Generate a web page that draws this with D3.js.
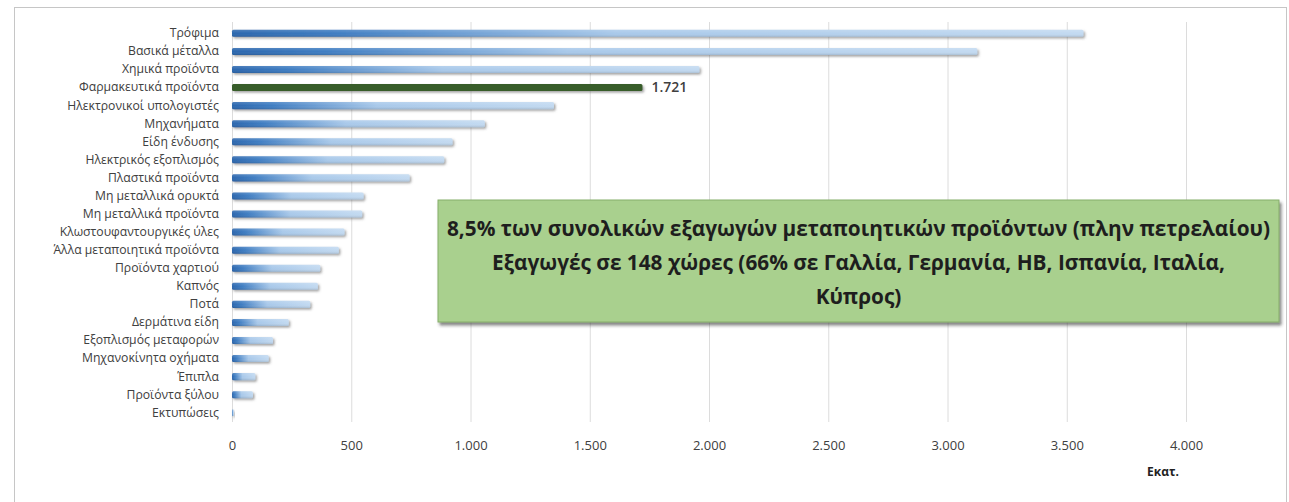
<!DOCTYPE html>
<html>
<head>
<meta charset="utf-8">
<script src="https://cdn.jsdelivr.net/npm/d3@7"></script>
<style>
  html, body { margin: 0; padding: 0; background: #fff; }
  svg { display: block; }
</style>
</head>
<body>
<svg id="chart" width="1289" height="502"></svg>
<script>
const categories = [
  "Τρόφιμα", "Βασικά μέταλλα", "Χημικά προϊόντα", "Φαρμακευτικά προϊόντα",
  "Ηλεκτρονικοί υπολογιστές", "Μηχανήματα", "Είδη ένδυσης", "Ηλεκτρικός εξοπλισμός",
  "Πλαστικά προϊόντα", "Μη μεταλλικά ορυκτά", "Μη μεταλλικά προϊόντα",
  "Κλωστουφαντουργικές ύλες", "Άλλα μεταποιητικά προϊόντα", "Προϊόντα χαρτιού",
  "Καπνός", "Ποτά", "Δερμάτινα είδη", "Εξοπλισμός μεταφορών", "Μηχανοκίνητα οχήματα",
  "Έπιπλα", "Προϊόντα ξύλου", "Εκτυπώσεις"
];
const values = [
  3570, 3125, 1960, 1721, 1350, 1060, 925, 890, 745, 552, 546,
  472, 448, 370, 360, 328, 238, 172, 154, 98, 88, 8
];
const highlighted = "Φαρμακευτικά προϊόντα";
const tickValues = [0, 500, 1000, 1500, 2000, 2500, 3000, 3500, 4000];
const unitLabel = "Εκατ.";
const boxLines = [
  "8,5% των συνολικών εξαγωγών μεταποιητικών προϊόντων (πλην πετρελαίου)",
  "Εξαγωγές σε 148 χώρες (66% σε Γαλλία, Γερμανία, ΗΒ, Ισπανία, Ιταλία,",
  "Κύπρος)"
];

const locale = d3.formatLocale({decimal: ",", thousands: ".", grouping: [3], currency: ["", "€"]});
const fmt = locale.format(",d");

const svg = d3.select("#chart");
const defs = svg.append("defs");

const grad = defs.append("linearGradient").attr("id", "barGrad")
  .attr("x1", "0").attr("x2", "1").attr("y1", "0").attr("y2", "0");
grad.append("stop").attr("offset", "0").attr("stop-color", "#2C67AE");
grad.append("stop").attr("offset", "0.12").attr("stop-color", "#3F7DC2");
grad.append("stop").attr("offset", "0.45").attr("stop-color", "#A9C9EA");
grad.append("stop").attr("offset", "1").attr("stop-color", "#C3DAF1");

const vgrad = defs.append("linearGradient").attr("id", "barShade")
  .attr("x1", "0").attr("x2", "0").attr("y1", "0").attr("y2", "1");
vgrad.append("stop").attr("offset", "0").attr("stop-color", "#fff").attr("stop-opacity", 0.15);
vgrad.append("stop").attr("offset", "0.5").attr("stop-color", "#fff").attr("stop-opacity", 0);
vgrad.append("stop").attr("offset", "1").attr("stop-color", "#000").attr("stop-opacity", 0.12);

const shadow = defs.append("filter").attr("id", "shadow")
  .attr("x", "-5%").attr("y", "-50%").attr("width", "120%").attr("height", "250%");
shadow.append("feDropShadow").attr("dx", 1.5).attr("dy", 1.6).attr("stdDeviation", 1)
  .attr("flood-color", "#555").attr("flood-opacity", 0.55);

const boxShadow = defs.append("filter").attr("id", "boxShadow")
  .attr("x", "-5%").attr("y", "-10%").attr("width", "110%").attr("height", "125%");
boxShadow.append("feDropShadow").attr("dx", 2).attr("dy", 3).attr("stdDeviation", 1.5)
  .attr("flood-color", "#333").attr("flood-opacity", 0.6);

// frame
svg.append("rect").attr("x", 14.5).attr("y", 7.5).attr("width", 1272).attr("height", 520)
  .attr("fill", "none").attr("stroke", "#C6C6C6").attr("stroke-width", 1);

const x = d3.scaleLinear().domain([0, 4000]).range([232, 1186]);
const y = d3.scaleBand().domain(categories).range([24.3, 421.8])
  .paddingInner(0.61).paddingOuter(0.305);

// gridlines
svg.append("g")
  .attr("transform", "translate(0,422)")
  .call(d3.axisBottom(x).tickValues(tickValues).tickSize(-400).tickFormat(""))
  .call(g => g.select(".domain").remove())
  .call(g => g.selectAll(".tick line").attr("stroke", "#DCDCDC").attr("stroke-width", 1));

// x tick labels
svg.append("g")
  .attr("transform", "translate(0,437)")
  .call(d3.axisBottom(x).tickValues(tickValues).tickSize(0).tickFormat(fmt))
  .call(g => g.select(".domain").remove())
  .call(g => g.selectAll("text")
    .attr("font-family", "'Open Sans', sans-serif").attr("font-size", 13)
    .attr("fill", "#404040").attr("dy", "0.32em").attr("y", 9));

svg.append("text").attr("x", 1163).attr("y", 476).attr("text-anchor", "middle")
  .attr("font-family", "'Open Sans', sans-serif").attr("font-size", 12)
  .attr("font-weight", "bold").attr("fill", "#222").text(unitLabel);

// category labels
svg.append("g")
  .attr("transform", "translate(219,0)")
  .call(d3.axisLeft(y).tickSize(0).tickPadding(0))
  .call(g => g.select(".domain").remove())
  .call(g => g.selectAll("text")
    .attr("font-family", "'Open Sans', sans-serif").attr("font-size", 12.2)
    .attr("fill", "#404040"));

// bars
const data = categories.map((c, i) => ({cat: c, value: values[i]}));
const bars = svg.append("g").selectAll("g.bar").data(data).join("g").attr("class", "bar");
bars.append("rect")
  .attr("x", x(0)).attr("y", d => y(d.cat))
  .attr("width", d => x(d.value) - x(0)).attr("height", y.bandwidth())
  .attr("rx", 1.5)
  .attr("fill", d => d.cat === highlighted ? "#385D2A" : "url(#barGrad)")
  .attr("filter", "url(#shadow)");
bars.filter(d => d.cat !== highlighted).append("rect")
  .attr("x", x(0)).attr("y", d => y(d.cat))
  .attr("width", d => x(d.value) - x(0)).attr("height", y.bandwidth())
  .attr("rx", 1.5).attr("fill", "url(#barShade)");

// value label for highlighted bar
const hi = data.find(d => d.cat === highlighted);
svg.append("text")
  .attr("x", x(hi.value) + 9).attr("y", y(hi.cat) + y.bandwidth() / 2)
  .attr("dy", "0.35em")
  .attr("font-family", "'Open Sans', sans-serif").attr("font-size", 14)
  .attr("font-weight", 600).attr("fill", "#404040")
  .text(fmt(hi.value));

// annotation box
const bx = 438, by = 200, bw = 841, bh = 122;
svg.append("rect").attr("x", bx).attr("y", by).attr("width", bw).attr("height", bh)
  .attr("fill", "#A9D08E").attr("stroke", "#86AD6B").attr("stroke-width", 1)
  .attr("filter", "url(#boxShadow)");
svg.append("g").selectAll("text").data(boxLines).join("text")
  .attr("x", bx + bw / 2).attr("y", (d, i) => 229 + i * 34)
  .attr("dy", "0.35em").attr("text-anchor", "middle")
  .attr("font-family", "'Open Sans', sans-serif").attr("font-size", 20.8)
  .attr("font-weight", "bold").attr("fill", "#1E1E1E")
  .text(d => d);
</script>
</body>
</html>
